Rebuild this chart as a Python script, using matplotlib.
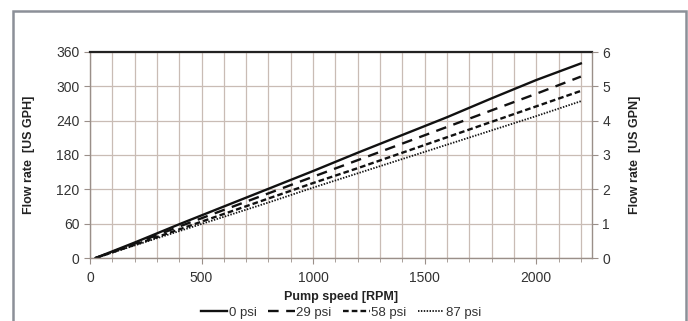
import matplotlib.pyplot as plt
from matplotlib.patches import Rectangle
from matplotlib.ticker import MultipleLocator

plt.rcParams['font.family'] = ['Liberation Sans', 'DejaVu Sans']

# pump speed [RPM] and flow [US GPH] for each outlet pressure
rpm = [25, 200, 400, 600, 800, 1000, 1200, 1400, 1600, 1800, 2000, 2200]
flow_0psi = [0, 27, 59, 90, 121, 152, 184, 215, 246, 279, 311, 340]
flow_29psi = [0, 25, 55, 84, 113, 142, 171, 200, 229, 258, 287, 317]
flow_58psi = [0, 23, 50, 77, 104, 131, 157, 184, 211, 238, 265, 292]
flow_87psi = [0, 22, 47, 72, 97, 123, 148, 173, 198, 223, 248, 274]
labels = ['0 psi', '29 psi', '58 psi', '87 psi']

fig = plt.figure(figsize=(6.88, 3.21), dpi=100)
fig.patches.append(Rectangle((12.5 / 688, -0.1), 673 / 688, 1.1 - 10.5 / 321,
                             transform=fig.transFigure, fill=False,
                             edgecolor='#8c9098', linewidth=1.8))

ax = fig.add_axes([90 / 688, 1 - 258 / 321, 502 / 688, 206 / 321])
grid_c = '#c9bcb5'

ax.plot(rpm, flow_0psi, color='#111111', lw=1.7, ls='-', label=labels[0])
ax.plot(rpm, flow_29psi, color='#111111', lw=1.7, ls=(0, (4.5, 3.2)), label=labels[1])
ax.plot(rpm, flow_58psi, color='#111111', lw=1.7, ls=(0, (2.4, 1.3)), label=labels[2])
ax.plot(rpm, flow_87psi, color='#111111', lw=1.3, ls=(0, (0.8, 0.8)), label=labels[3])

ax.set_xlim(0, 2250)
ax.set_ylim(0, 360)
ax.xaxis.set_major_locator(MultipleLocator(500))
ax.xaxis.set_minor_locator(MultipleLocator(100))
ax.yaxis.set_major_locator(MultipleLocator(60))
ax.grid(which='both', axis='x', color=grid_c, lw=0.9)
ax.grid(which='major', axis='y', color=grid_c, lw=0.9)
ax.set_axisbelow(True)

for side in ['left', 'bottom', 'right']:
    ax.spines[side].set_color('#9a8f89')
    ax.spines[side].set_linewidth(1.0)
ax.spines['top'].set_color('#222222')
ax.spines['top'].set_linewidth(1.6)

ax.tick_params(axis='both', which='both', colors='#9a8f89', labelcolor='#333333',
               labelsize=10, length=4)
ax.tick_params(axis='x', which='minor', length=3)
ax.tick_params(axis='x', pad=5)

ax.set_xlabel('Pump speed [RPM]', fontsize=9, fontweight='bold', color='#222222')
ax.xaxis.set_label_coords(0.5, -0.16)
ax.set_ylabel('Flow rate  [US GPH]', fontsize=9, fontweight='bold', color='#222222')
ax.yaxis.set_label_coords(-0.11, 0.5)

ax2 = ax.twinx()
ax2.set_ylim(0, 6)
ax2.yaxis.set_major_locator(MultipleLocator(1))
ax2.tick_params(axis='y', colors='#9a8f89', labelcolor='#333333', labelsize=10, length=4)
for side in ['left', 'bottom', 'right', 'top']:
    ax2.spines[side].set_visible(False)
ax2.set_ylabel('Flow rate  [US GPN]', fontsize=9, fontweight='bold', color='#222222')
ax2.yaxis.set_label_coords(1.073, 0.5)

ax.legend(loc='upper center', bbox_to_anchor=(0.5, -0.235), ncol=4, frameon=False,
          fontsize=9.5, handlelength=2.0, handletextpad=0.1, columnspacing=0.9,
          labelcolor='#333333', borderpad=0.0, borderaxespad=0.0)

fig.savefig('out.png', dpi=100)
